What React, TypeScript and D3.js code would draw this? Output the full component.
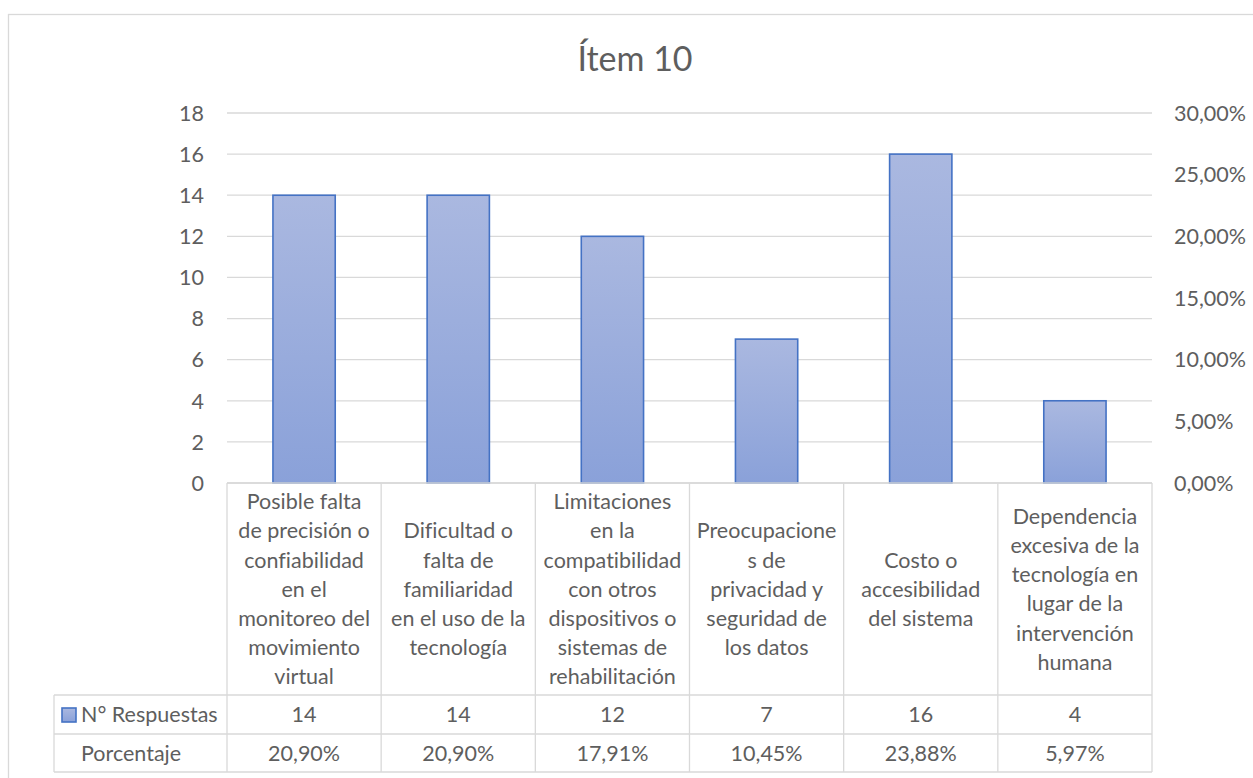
import React from "react";
import * as d3 from "d3";

// Categories (already wrapped into the lines shown in the data table)
const categories: string[][] = [
  ["Posible falta", "de precisión o", "confiabilidad", "en el", "monitoreo del", "movimiento", "virtual"],
  ["Dificultad o", "falta de", "familiaridad", "en el uso de la", "tecnología"],
  ["Limitaciones", "en la", "compatibilidad", "con otros", "dispositivos o", "sistemas de", "rehabilitación"],
  ["Preocupacione", "s de", "privacidad y", "seguridad de", "los datos"],
  ["Costo o", "accesibilidad", "del sistema"],
  ["Dependencia", "excesiva de la", "tecnología en", "lugar de la", "intervención", "humana"],
];

const responses: number[] = [14, 14, 12, 7, 16, 4];
const percentages: number[] = [20.9, 20.9, 17.91, 10.45, 23.88, 5.97];

const leftTicks: number[] = [0, 2, 4, 6, 8, 10, 12, 14, 16, 18];
const rightTicks: number[] = [0, 0.05, 0.1, 0.15, 0.2, 0.25, 0.3];

const title = "Ítem 10";
const seriesName = "N° Respuestas";
const rowName = "Porcentaje";

const W = 1253;
const H = 778;
const FONT = "Lato, 'Open Sans', sans-serif";
const TEXT = "#5E5E5E";
const GRID = "#D9D9D9";
const FS = 21.5;

const plotLeft = 227;
const plotRight = 1152;
const plotTop = 113;
const plotBottom = 483;
const catBottom = 695;
const row1Bottom = 734;
const row2Bottom = 772;
const legendLeft = 54;

const comma = (s: string) => s.replace(".", ",");
const fmtPct = (v: number) => comma(d3.format(".2f")(v)) + "%";

export default function App() {
  const ids = categories.map((_, i) => String(i));
  const xCol = d3.scaleBand<string>().domain(ids).range([plotLeft, plotRight]).padding(0);
  const xBar = d3
    .scaleBand<string>()
    .domain(ids)
    .range([plotLeft, plotRight])
    .paddingInner(0.596)
    .paddingOuter(0.298);
  const y = d3.scaleLinear().domain([0, 18]).range([plotBottom, plotTop]);
  const y2 = d3.scaleLinear().domain([0, 0.3]).range([plotBottom, plotTop]);
  const fmtRight = (v: number) => comma(d3.format(".2%")(v));

  const lineH = 29.2;
  const catMid = (plotBottom + catBottom) / 2;
  const colEdges = [...ids.map((id) => xCol(id)!), plotRight];

  return (
    <svg
      width={W}
      height={H}
      style={{ position: "absolute", left: 0, top: 0, background: "#fff", fontVariantLigatures: "none" }}
      fontFamily={FONT}
    >
      <defs>
        <linearGradient id="barFill" x1="0" y1="0" x2="0" y2="1">
          <stop offset="0" stopColor="#AAB8E0" />
          <stop offset="1" stopColor="#8AA1D9" />
        </linearGradient>
      </defs>

      {/* chart frame */}
      <rect x={8.5} y={14.5} width={W + 20} height={H + 20} fill="#fff" stroke={GRID} strokeWidth={1.3} />

      <text x={635} y={70.5} textAnchor="middle" fontSize={34} fill={TEXT}>
        {title}
      </text>

      {/* gridlines */}
      {leftTicks.map((t) => (
        <line key={t} x1={plotLeft} x2={plotRight} y1={y(t)} y2={y(t)} stroke={GRID} strokeWidth={1.3} />
      ))}

      {/* left axis labels */}
      {leftTicks.map((t) => (
        <text key={t} x={204} y={y(t)} dy="0.36em" textAnchor="end" fontSize={FS} fill={TEXT}>
          {t}
        </text>
      ))}

      {/* right axis labels */}
      {rightTicks.map((t) => (
        <text key={t} x={1174} y={y2(t)} dy="0.36em" textAnchor="start" fontSize={FS} fill={TEXT}>
          {fmtRight(t)}
        </text>
      ))}

      {/* bars */}
      {responses.map((v, i) => (
        <rect
          key={i}
          x={xBar(ids[i])!}
          y={y(v)}
          width={xBar.bandwidth()}
          height={y(0) - y(v)}
          fill="url(#barFill)"
          stroke="#4472C4"
          strokeWidth={1.6}
        />
      ))}

      {/* data table grid */}
      <line x1={plotLeft} x2={plotRight} y1={plotBottom} y2={plotBottom} stroke={GRID} strokeWidth={1.3} />
      {[catBottom, row1Bottom, row2Bottom].map((yy) => (
        <line key={yy} x1={legendLeft} x2={plotRight} y1={yy} y2={yy} stroke={GRID} strokeWidth={1.3} />
      ))}
      <line x1={legendLeft} x2={legendLeft} y1={catBottom} y2={row2Bottom} stroke={GRID} strokeWidth={1.3} />
      {colEdges.map((xx, k) => (
        <line key={k} x1={xx} x2={xx} y1={plotBottom} y2={row2Bottom} stroke={GRID} strokeWidth={1.3} />
      ))}

      {/* category labels */}
      {categories.map((lines, i) => {
        const cx = xCol(ids[i])! + xCol.bandwidth() / 2;
        const start = catMid - ((lines.length - 1) * lineH) / 2;
        return (
          <text key={i} textAnchor="middle" fontSize={FS} fill={TEXT}>
            {lines.map((l, j) => (
              <tspan key={j} x={cx} y={start + j * lineH} dy="0.36em">
                {l}
              </tspan>
            ))}
          </text>
        );
      })}

      {/* legend row */}
      <rect x={62} y={708} width={14} height={14} fill="url(#barFill)" stroke="#4472C4" strokeWidth={1.6} />
      <text x={81} y={(catBottom + row1Bottom) / 2} dy="0.36em" fontSize={FS} fill={TEXT}>
        {seriesName}
      </text>
      {responses.map((v, i) => (
        <text
          key={i}
          x={xCol(ids[i])! + xCol.bandwidth() / 2}
          y={(catBottom + row1Bottom) / 2}
          dy="0.36em"
          textAnchor="middle"
          fontSize={FS}
          fill={TEXT}
        >
          {v}
        </text>
      ))}

      {/* percentage row */}
      <text x={81} y={(row1Bottom + row2Bottom) / 2} dy="0.36em" fontSize={FS} fill={TEXT}>
        {rowName}
      </text>
      {percentages.map((v, i) => (
        <text
          key={i}
          x={xCol(ids[i])! + xCol.bandwidth() / 2}
          y={(row1Bottom + row2Bottom) / 2}
          dy="0.36em"
          textAnchor="middle"
          fontSize={FS}
          fill={TEXT}
        >
          {fmtPct(v)}
        </text>
      ))}
    </svg>
  );
}
